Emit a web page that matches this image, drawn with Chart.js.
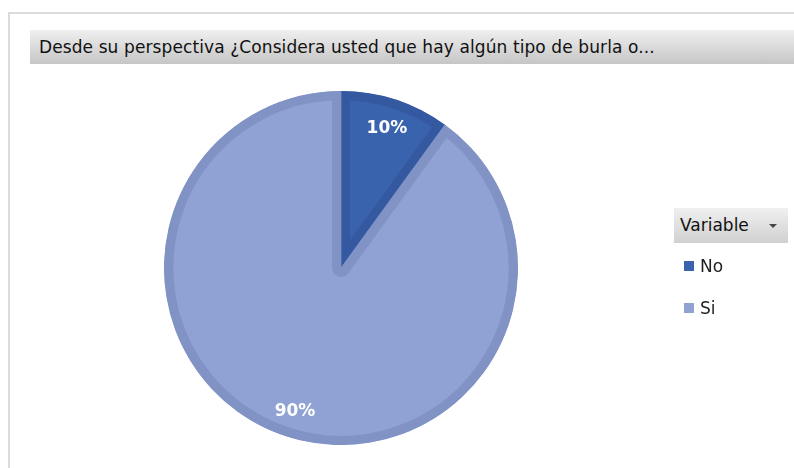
<!DOCTYPE html>
<html>
<head>
<meta charset="utf-8">
<script src="https://cdn.jsdelivr.net/npm/chart.js@4"></script>
<style>
  body { margin: 0; background: #fff; font-family: "DejaVu Sans", sans-serif; }
  #wrap { position: relative; width: 794px; height: 468px; overflow: hidden; }
  #frame { position: absolute; left: 8px; top: 12px; width: 800px; height: 470px; border-left: 2px solid #dcdcdc; border-top: 2px solid #dcdcdc; }
  #title { position: absolute; left: 30px; top: 30px; width: 780px; height: 34px; background: linear-gradient(#efefef, #c6c6c6);
           font-size: 17px; line-height: 34px; padding-left: 9px; color: #111; white-space: nowrap; letter-spacing: 0.1px; }
  #legHead { position: absolute; left: 674px; top: 208px; width: 114px; height: 35px; background: linear-gradient(#f0f0f0, #d0d0d0);
             font-size: 17px; line-height: 35px; color: #111; }
  #legHead span { position: absolute; left: 6px; }
  #legHead i { position: absolute; left: 95px; top: 16px; width: 0; height: 0; border-left: 4px solid transparent; border-right: 4px solid transparent; border-top: 4px solid #444; }
  .item { position: absolute; left: 684px; font-size: 17px; color: #222; line-height: 20px; }
  .item b { display: inline-block; width: 10px; height: 10px; margin-right: 6px; vertical-align: 1px; }
  canvas { position: absolute; left: 0; top: 0; }
</style>
</head>
<body>
<div id="wrap">
  <div id="frame"></div>
  <div id="title">Desde su perspectiva ¿Considera usted que hay algún tipo de burla o...</div>
  <div id="legHead"><span>Variable</span><i></i></div>
  <canvas id="myChart" width="794" height="468"></canvas>
</div>
<script>
var categories = ["No", "Si"];
var values = [10, 90];
var fillColors = ["#3A63AD", "#8FA2D3"];
var edgeColors = ["#3559A1", "#8193C5"];
var legendTops = [256, 298];

// legend entries
for (var i = 0; i < categories.length; i++) {
    var d = document.createElement("div");
    d.className = "item";
    d.style.top = legendTops[i] + "px";
    d.innerHTML = '<b style="background:' + fillColors[i] + '"></b>' + categories[i];
    document.getElementById("wrap").appendChild(d);
}

var pctLabels = {
    id: "pctLabels",
    afterDatasetsDraw: function (chart) {
        var ctx = chart.ctx;
        var meta = chart.getDatasetMeta(0);
        var total = values.reduce(function (a, b) { return a + b; }, 0);
        ctx.save();
        ctx.fillStyle = "#ffffff";
        ctx.font = "bold 17px 'DejaVu Sans', sans-serif";
        ctx.textAlign = "center";
        ctx.textBaseline = "middle";
        meta.data.forEach(function (arc, idx) {
            var mid = (arc.startAngle + arc.endAngle) / 2;
            var r = arc.outerRadius * 0.84;
            ctx.fillText(Math.round(values[idx] / total * 100) + "%", arc.x + Math.cos(mid) * r, arc.y + Math.sin(mid) * r + 2);
        });
        ctx.restore();
    }
};

var myChart = new Chart(document.getElementById("myChart").getContext("2d"), {
    type: "pie",
    data: {
        labels: categories,
        datasets: [{
            data: values,
            backgroundColor: fillColors,
            borderColor: edgeColors,
            borderWidth: 9,
            borderAlign: "inner",
            radius: 177
        }]
    },
    options: {
        responsive: false,
        animation: false,
        layout: { padding: { left: 164, right: 276, top: 91, bottom: 23 } },
        plugins: {
            legend: { display: false },
            tooltip: { enabled: false }
        }
    },
    plugins: [pctLabels]
});
</script>
</body>
</html>
